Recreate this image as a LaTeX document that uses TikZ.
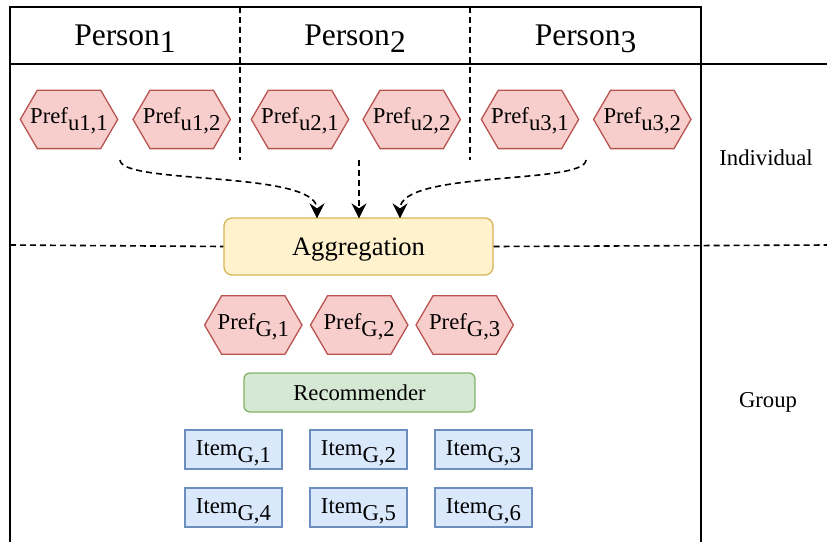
\documentclass[tikz,border=0pt]{standalone}
\usepackage{fontspec}
\setmainfont{Liberation Serif}
\usetikzlibrary{arrows.meta,calc}
\pgfdeclarelayer{bg}
\pgfsetlayers{bg,main}
\definecolor{hexfill}{HTML}{F8CECC}
\definecolor{hexdraw}{HTML}{B85450}
\definecolor{aggfill}{HTML}{FFF2CC}
\definecolor{aggdraw}{HTML}{D6B656}
\definecolor{recfill}{HTML}{D5E8D4}
\definecolor{recdraw}{HTML}{82B366}
\definecolor{itemfill}{HTML}{DAE8FC}
\definecolor{itemdraw}{HTML}{6C8EBF}
\newcommand{\lowsub}[1]{\raisebox{-7pt}{#1}}
\newcommand{\hexdraw}[1]{%
  \begin{pgfonlayer}{bg}
  \draw[hexline] (#1.west) -- ([xshift=17pt]#1.north west) -- ([xshift=-17pt]#1.north east)
    -- (#1.east) -- ([xshift=-17pt]#1.south east) -- ([xshift=17pt]#1.south west) -- cycle;
  \end{pgfonlayer}}
\begin{document}
\begin{tikzpicture}[x=1pt,y=-1pt,
  frame/.style={line width=2pt},
  divider/.style={line width=1.6pt, dash pattern=on 6pt off 4pt},
  flow/.style={line width=1.6pt, dash pattern=on 6pt off 4pt,
    -{Stealth[length=15pt,width=15pt,inset=5pt]}},
  hexbox/.style={minimum width=97pt, minimum height=58pt, inner sep=0pt,
    text height=20pt, text depth=12pt, font=\fontsize{22.7}{26}\selectfont},
  hexline/.style={fill=hexfill, draw=hexdraw, line width=1.3pt},
  aggbox/.style={draw=aggdraw, fill=aggfill, line width=1.3pt, rounded corners=8pt,
    minimum width=269pt, minimum height=57pt, inner sep=0pt,
    text height=29pt, text depth=12pt, font=\fontsize{26.6}{30}\selectfont},
  recbox/.style={draw=recdraw, fill=recfill, line width=1.3pt, rounded corners=6pt,
    minimum width=231pt, minimum height=39pt, inner sep=0pt,
    text height=26.4pt, text depth=10pt, font=\fontsize{22.7}{26}\selectfont},
  itembox/.style={draw=itemdraw, fill=itemfill, line width=1.3pt,
    minimum width=97pt, minimum height=39pt, inner sep=0pt,
    text height=23pt, text depth=12pt, font=\fontsize{22.7}{26}\selectfont},
  title/.style={anchor=base, inner sep=0pt, font=\fontsize{31.5}{36}\selectfont},
  side/.style={anchor=base, inner sep=0pt, font=\fontsize{22.7}{26}\selectfont}
]
\useasboundingbox (0,0) rectangle (827,542);

% frame
\draw[frame] (10,542) -- (10,7) -- (701,7) -- (701,542);
\draw[frame] (10,64) -- (827,64);
\draw[divider] (240,7) -- (240,160);
\draw[divider] (470,7) -- (470,160);

% headers
\node[title] (p1) at (125,45) {Person\lowsub{1}};
\node[title] (p2) at (355,45) {Person\lowsub{2}};
\node[title] (p3) at (585.5,45) {Person\lowsub{3}};

% side labels
\node[side] (ind) at (766,165) {Individual};
\node[side] (grp) at (768,407.7) {Group};

% individual preferences
\node[hexbox] (u11) at (69,119.4) {Pref\lowsub{u1,1}}; \hexdraw{u11}
\node[hexbox] (u12) at (181.7,119.4) {Pref\lowsub{u1,2}}; \hexdraw{u12}
\node[hexbox] (u21) at (300,119.4) {Pref\lowsub{u2,1}}; \hexdraw{u21}
\node[hexbox] (u22) at (411.7,119.4) {Pref\lowsub{u2,2}}; \hexdraw{u22}
\node[hexbox] (u31) at (530,119.4) {Pref\lowsub{u3,1}}; \hexdraw{u31}
\node[hexbox] (u32) at (642.3,119.4) {Pref\lowsub{u3,2}}; \hexdraw{u32}

% aggregation
\node[aggbox] (agg) at (358.5,246.5) {Aggregation};
\draw[divider] (10,245) -- (agg.west);
\draw[divider] (agg.east) -- (827,245);

% arrows
\coordinate (s1) at (120,160);
\coordinate (s2) at (359,160);
\coordinate (s3) at (586,160);
\draw[flow] (s1) .. controls (121,185) and (317,170) .. ([xshift=-41.5pt,yshift=-1pt]agg.north);
\draw[flow] (s2) -- ([yshift=-1pt]s2 |- agg.north);
\draw[flow] (s3) .. controls (585,185) and (400,170) .. ([xshift=41.5pt,yshift=-1pt]agg.north);

% group preferences
\node[hexbox] (g1) at (253.3,325) {Pref\lowsub{G,1}}; \hexdraw{g1}
\node[hexbox] (g2) at (359.2,325) {Pref\lowsub{G,2}}; \hexdraw{g2}
\node[hexbox] (g3) at (464.7,325) {Pref\lowsub{G,3}}; \hexdraw{g3}

% recommender
\node[recbox] (rec) at (359.5,392.5) {Recommender};

% items
\node[itembox] (i1) at (233.5,449.5) {Item\lowsub{G,1}};
\node[itembox] (i2) at (358.5,449.5) {Item\lowsub{G,2}};
\node[itembox] (i3) at (483.5,449.5) {Item\lowsub{G,3}};
\node[itembox] (i4) at (233.5,507.5) {Item\lowsub{G,4}};
\node[itembox] (i5) at (358.5,507.5) {Item\lowsub{G,5}};
\node[itembox] (i6) at (483.5,507.5) {Item\lowsub{G,6}};
\end{tikzpicture}
\end{document}
